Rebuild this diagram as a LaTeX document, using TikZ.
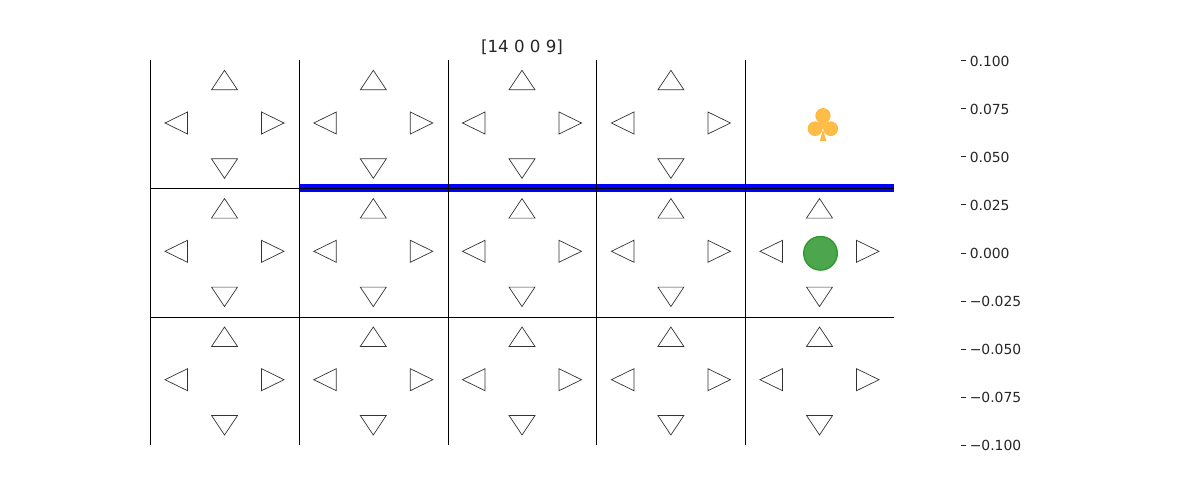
\documentclass[tikz,border=0pt]{standalone}
\usepackage{fontspec}
\setmainfont{DejaVu Sans}
\definecolor{ink}{HTML}{262626}
\definecolor{clubfill}{HTML}{FFBC47}
\definecolor{clubedge}{HTML}{FFB23A}
\definecolor{goalfill}{HTML}{4DA64D}
\definecolor{goaledge}{HTML}{2F9A2F}
\tikzset{
  gridline/.style={black,line width=0.72bp,line cap=butt},
  arrowtri/.style={draw=black!80,line width=0.5bp,fill=white,line join=miter},
  tickmark/.style={ink,line width=0.72bp},
  ticklabel/.style={anchor=west,inner sep=0pt,text=ink,font=\fontsize{10bp}{12bp}\selectfont},
  wall/.style={blue,line width=6bp,line cap=butt}
}
\newcommand{\celltris}[2]{%
  \begin{scope}[shift={(#1,#2)}]
    \draw[arrowtri] (74,10) -- (61,29.5) -- (87,29.5) -- cycle;
    \draw[arrowtri] (74,118) -- (61,98.5) -- (87,98.5) -- cycle;
    \draw[arrowtri] (14.5,62.7) -- (37,51.7) -- (37,73.7) -- cycle;
    \draw[arrowtri] (133.5,62.7) -- (111,51.7) -- (111,73.7) -- cycle;
  \end{scope}}
\begin{document}
\begin{tikzpicture}[x=0.72bp,y=-0.72bp]
\useasboundingbox (0,0) rectangle (1200,500);
\fill[white] (0,0) rectangle (1200,500);
% triangles
\foreach \cx in {150.5,299.3,448,596.9,745.5}{
  \foreach \cy in {60.3,188.6,317}{
    \ifdim\cx pt=745.5pt
      \ifdim\cy pt=60.3pt\else\celltris{\cx}{\cy}\fi
    \else
      \celltris{\cx}{\cy}
    \fi
  }
}
% walls
\coordinate (wa) at (299.5,188.2);
\coordinate (wb) at (894,188.2);
\draw[wall] (wa) -- (wb);
% grid
\foreach \yy in {188.5,317.5}{
  \draw[gridline] (150.5,\yy) -- (894,\yy);
}
\foreach \xx in {150.5,299.5,448.5,596.5,745.5}{
  \draw[gridline] (\xx,60) -- (\xx,445);
}
% goal club
\filldraw[fill=clubfill,draw=clubedge,line width=0.7bp] (823,115.7) circle (7.1);
\filldraw[fill=clubfill,draw=clubedge,line width=0.7bp] (815,128.7) circle (6.8);
\filldraw[fill=clubfill,draw=clubedge,line width=0.7bp] (830.7,128.7) circle (6.8);
\filldraw[fill=clubfill,draw=clubedge,line width=0.5bp] (820.3,140.5) -- (823,131) -- (825.7,140.5) -- cycle;
\fill[clubfill] (823,115.7) circle (7.1);
\fill[clubfill] (815,128.7) circle (6.8);
\fill[clubfill] (830.7,128.7) circle (6.8);
\fill[clubfill] (823,125) circle (4.5);
% agent
\filldraw[fill=goalfill,draw=goaledge,line width=1bp] (820.5,253.3) circle (16.8);
% title
\node[inner sep=0pt,text=ink,font=\fontsize{12bp}{14bp}\selectfont] (title) at (522,47.2) {[14 0 0 9]};
% axis
\foreach \ty/\ly/\lab/\nm in {60.5/61.4/0.100/a,108.5/109.4/0.075/b,156.5/157.4/0.050/c,204.5/205.4/0.025/d,253.5/253.4/0.000/e,301.5/301.4/−0.025/f,349.5/349.4/−0.050/g,397.5/397.4/−0.075/h,445.5/445.4/−0.100/i}{
  \draw[tickmark] (961,\ty) -- (966,\ty);
  \node[ticklabel] (t\nm) at (969.5,\ly) {\lab};
}
\end{tikzpicture}
\end{document}
